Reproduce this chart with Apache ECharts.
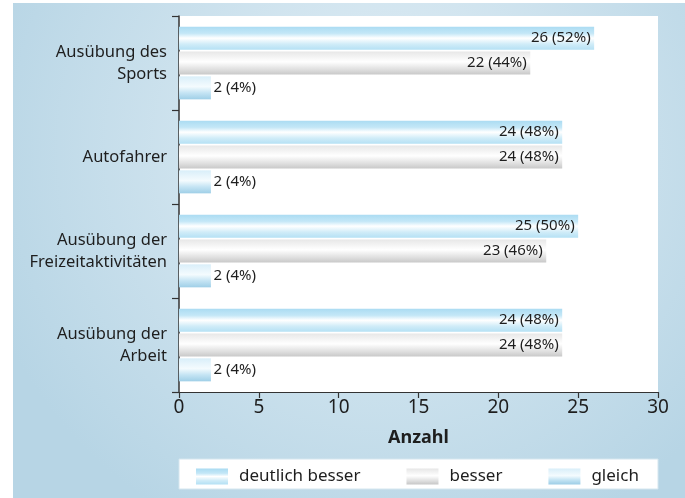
<!DOCTYPE html>
<html>
<head>
<meta charset="utf-8">
<script src="https://cdn.jsdelivr.net/npm/echarts@6/dist/echarts.min.js"></script>
<style>
  html, body { margin: 0; padding: 0; background: #fff; }
  #chart { width: 685px; height: 498px; }
</style>
</head>
<body>
<div id="chart"></div>
<script>
const categories = ['Ausübung des\nSports', 'Autofahrer', 'Ausübung der\nFreizeitaktivitäten', 'Ausübung der\nArbeit']
const seriesNames = ['deutlich besser', 'besser', 'gleich']
const deutlichBesser = [26, 24, 25, 24]
const besser = [22, 24, 23, 24]
const gleich = [2, 2, 2, 2]
const total = 50
const xTicks = [0, 5, 10, 15, 20, 25, 30]

const font = 'Noto Sans'

function grad(stops) {
  return new echarts.graphic.LinearGradient(0, 0, 0, 1, stops.map(c => ({ offset: c[0], color: c[1] })))
}

const colors = [
  grad([[0, '#a9dbf2'], [0.3, '#c4e7f7'], [0.5, '#ffffff'], [0.75, '#d0ecf8'], [1, '#b3e0f4']]),
  grad([[0, '#e6e6e6'], [0.45, '#ffffff'], [0.8, '#dcdcdc'], [1, '#c6c6c6']]),
  grad([[0, '#d8eef9'], [0.45, '#f4fbfe'], [0.7, '#c6e5f4'], [1, '#9ccde6']])
]

function buildData(values) {
  return values.map(v => ({
    value: v,
    label: {
      position: v < 5 ? 'right' : 'insideRight',
      distance: v < 5 ? 2 : 4
    }
  }))
}

const chart = echarts.init(document.getElementById('chart'))
const values = [deutlichBesser, besser, gleich]

chart.setOption({
  backgroundColor: '#ffffff',
  animation: false,
  graphic: [
    {
      type: 'rect',
      z: -10,
      shape: { x: 13, y: 3, width: 672, height: 495 },
      style: {
        fill: new echarts.graphic.RadialGradient(0.55, 0.3, 0.85, [
          { offset: 0, color: '#e3eff6' },
          { offset: 1, color: '#b7d5e5' }
        ])
      }
    },
    {
      type: 'rect',
      z: -5,
      shape: { x: 179, y: 16, width: 479, height: 376 },
      style: { fill: '#ffffff' }
    },
    {
      type: 'rect',
      z: -5,
      shape: { x: 179, y: 459, width: 479, height: 30 },
      style: { fill: '#ffffff', stroke: '#d5e6ef', lineWidth: 1 }
    }
  ],
  grid: {
    left: 179,
    right: 27,
    top: 16,
    bottom: 106
  },
  legend: {
    left: 191,
    top: 463,
    itemWidth: 32,
    itemHeight: 16,
    itemGap: 46,
    icon: 'rect',
    data: seriesNames,
    textStyle: {
      fontFamily: font,
      fontSize: 17,
      color: '#1e1e1e',
      padding: [0, 0, 0, 6]
    }
  },
  xAxis: {
    type: 'value',
    min: 0,
    max: 30,
    interval: 5,
    name: 'Anzahl',
    nameLocation: 'middle',
    nameGap: 37,
    nameTextStyle: {
      fontFamily: font,
      fontSize: 18,
      fontWeight: 'bold',
      color: '#1e1e1e'
    },
    axisLine: { show: true, lineStyle: { color: '#333', width: 1.2 } },
    axisTick: { show: true, length: 6, lineStyle: { color: '#333', width: 1.2 } },
    axisLabel: {
      margin: 6,
      fontFamily: font,
      fontSize: 19,
      color: '#1e1e1e',
      formatter: v => xTicks.includes(v) ? String(v) : ''
    },
    splitLine: { show: false }
  },
  yAxis: {
    type: 'category',
    inverse: true,
    data: categories,
    axisLine: { show: true, lineStyle: { color: '#333', width: 1.5 } },
    axisTick: { show: true, length: 7, lineStyle: { color: '#333', width: 1.2 } },
    axisLabel: {
      margin: 12,
      fontFamily: font,
      fontSize: 16.5,
      lineHeight: 22,
      color: '#1e1e1e',
      align: 'right'
    }
  },
  series: seriesNames.map((name, i) => ({
    name: name,
    type: 'bar',
    barWidth: 23,
    barGap: '8%',
    data: buildData(values[i]),
    itemStyle: {
      color: colors[i],
      borderColor: 'rgba(0,0,0,0)'
    },
    label: {
      show: true,
      fontFamily: font,
      fontSize: 15,
      color: '#1e1e1e',
      formatter: p => p.value + ' (' + Math.round(p.value / total * 100) + '%)'
    }
  }))
})
</script>
</body>
</html>
